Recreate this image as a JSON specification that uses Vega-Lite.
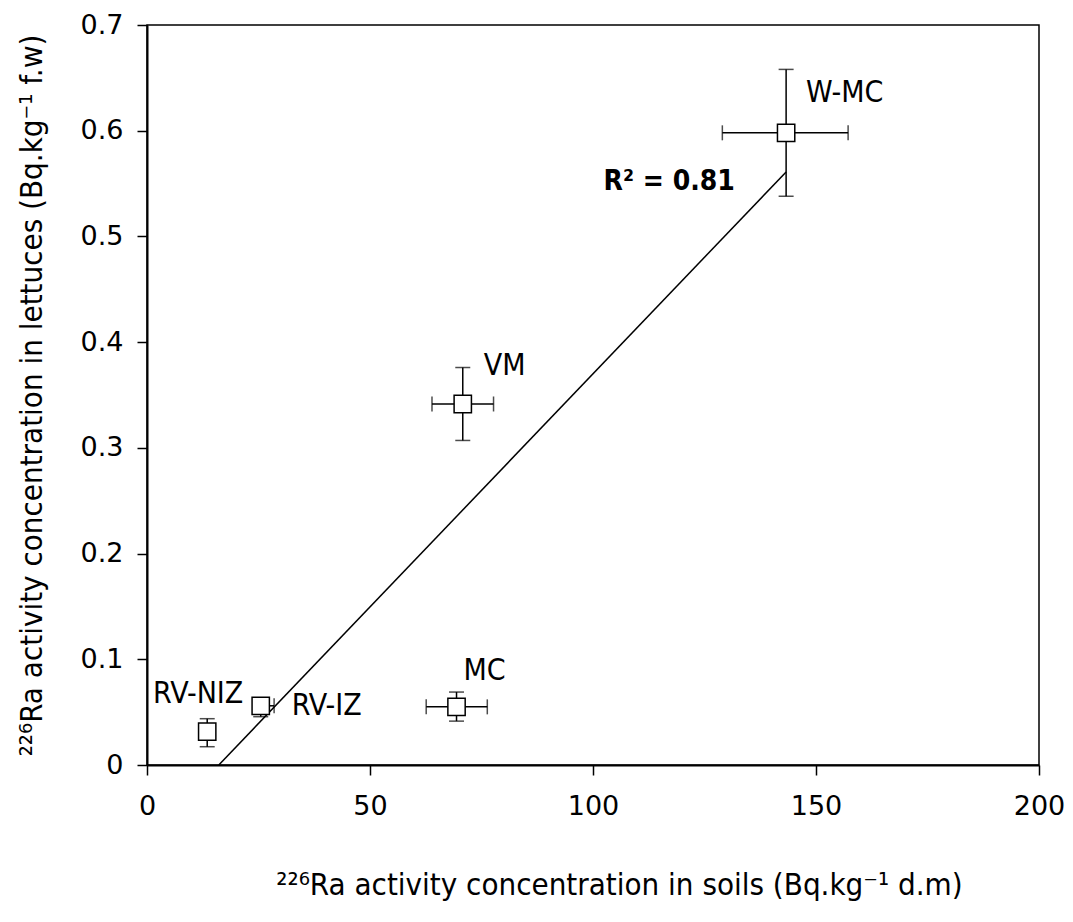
{
  "$schema": "https://vega.github.io/schema/vega-lite/v6.json",
  "width": 892,
  "height": 740,
  "autosize": "none",
  "padding": {"left": 147, "top": 25, "right": 34, "bottom": 157},
  "background": "white",
  "config": {
    "font": "DejaVu Sans Condensed",
    "view": {"stroke": "black", "strokeWidth": 1.5},
    "axis": {
      "grid": false,
      "domainColor": "black",
      "domainWidth": 2,
      "tickColor": "black",
      "tickWidth": 1.5,
      "tickSize": 10,
      "labelColor": "black",
      "labelFontSize": 27,
      "labelFont": "DejaVu Sans",
      "labelFlush": false,
      "labelOverlap": false,
      "titleFont": "DejaVu Sans Condensed",
      "titleFontSize": 31,
      "titleFontWeight": "normal",
      "titleColor": "black"
    }
  },
  "datasets": {
    "points": [
      {"site": "W-MC", "soil": 143.3, "soil_lo": 129.0, "soil_hi": 157.2, "lettuce": 0.598, "lettuce_lo": 0.538, "lettuce_hi": 0.658},
      {"site": "VM", "soil": 70.8, "soil_lo": 63.9, "soil_hi": 77.7, "lettuce": 0.3415, "lettuce_lo": 0.307, "lettuce_hi": 0.376},
      {"site": "MC", "soil": 69.4, "soil_lo": 62.6, "soil_hi": 76.3, "lettuce": 0.055, "lettuce_lo": 0.0415, "lettuce_hi": 0.069},
      {"site": "RV-IZ", "soil": 25.5, "soil_lo": 25.5, "soil_hi": 28.5, "lettuce": 0.056, "lettuce_lo": 0.0457, "lettuce_hi": 0.062},
      {"site": "RV-NIZ", "soil": 13.5, "soil_lo": 13.5, "soil_hi": 13.5, "lettuce": 0.0315, "lettuce_lo": 0.0173, "lettuce_hi": 0.0438}
    ],
    "fit": [
      {"soil": 16.1, "lettuce": 0.0},
      {"soil": 143.3, "lettuce": 0.561}
    ],
    "note": [
      {"label": "R² = 0.81", "soil": 131.8, "lettuce": 0.5516}
    ]
  },
  "layer": [
    {
      "data": {"name": "fit"},
      "mark": {"type": "line", "color": "black", "strokeWidth": 1.5},
      "encoding": {
        "x": {"field": "soil", "type": "quantitative", "scale": {"domain": [0, 200], "nice": false, "zero": false},
          "axis": {"values": [0, 50, 100, 150, 200], "labelPadding": 18,
            "title": "²²⁶Ra activity concentration in soils (Bq.kg⁻¹ d.m)",
            "titleX": 472, "titleY": 120, "titleBaseline": "middle", "titleAnchor": "middle", "titleAlign": "center"}},
        "y": {"field": "lettuce", "type": "quantitative", "scale": {"domain": [0, 0.7], "nice": false, "zero": false},
          "axis": {"values": [0, 0.1, 0.2, 0.3, 0.4, 0.5, 0.6, 0.7], "labelPadding": 14,
            "labelExpr": "datum.value == 0 ? '0' : format(datum.value, '.1f')",
            "title": "²²⁶Ra activity concentration in lettuces (Bq.kg⁻¹ f.w)",
            "titleX": -115, "titleY": 370, "titleAngle": 270, "titleBaseline": "middle", "titleAlign": "center", "titleAnchor": "middle"}}
      }
    },
    {
      "data": {"name": "points"},
      "mark": {"type": "rule", "color": "black", "strokeWidth": 1.5},
      "encoding": {
        "x": {"field": "soil_lo", "type": "quantitative"},
        "x2": {"field": "soil_hi"},
        "y": {"field": "lettuce", "type": "quantitative"}
      }
    },
    {
      "data": {"name": "points"},
      "mark": {"type": "rule", "color": "black", "strokeWidth": 1.5},
      "encoding": {
        "x": {"field": "soil", "type": "quantitative"},
        "y": {"field": "lettuce_lo", "type": "quantitative"},
        "y2": {"field": "lettuce_hi"}
      }
    },
    {
      "data": {"name": "points"},
      "mark": {"type": "tick", "orient": "vertical", "color": "black", "size": 15, "thickness": 1.5},
      "encoding": {
        "x": {"field": "soil_lo", "type": "quantitative"},
        "y": {"field": "lettuce", "type": "quantitative"}
      }
    },
    {
      "data": {"name": "points"},
      "mark": {"type": "tick", "orient": "vertical", "color": "black", "size": 15, "thickness": 1.5},
      "encoding": {
        "x": {"field": "soil_hi", "type": "quantitative"},
        "y": {"field": "lettuce", "type": "quantitative"}
      }
    },
    {
      "data": {"name": "points"},
      "mark": {"type": "tick", "orient": "horizontal", "color": "black", "size": 15, "thickness": 1.5},
      "encoding": {
        "x": {"field": "soil", "type": "quantitative"},
        "y": {"field": "lettuce_lo", "type": "quantitative"}
      }
    },
    {
      "data": {"name": "points"},
      "mark": {"type": "tick", "orient": "horizontal", "color": "black", "size": 15, "thickness": 1.5},
      "encoding": {
        "x": {"field": "soil", "type": "quantitative"},
        "y": {"field": "lettuce_hi", "type": "quantitative"}
      }
    },
    {
      "data": {"name": "points"},
      "mark": {"type": "point", "shape": "square", "filled": true, "fill": "white", "stroke": "black", "strokeWidth": 1.5, "size": 300, "opacity": 1},
      "encoding": {
        "x": {"field": "soil", "type": "quantitative"},
        "y": {"field": "lettuce", "type": "quantitative"}
      }
    },
    {
      "data": {"name": "points"},
      "transform": [{"filter": "datum.site == 'W-MC'"}],
      "mark": {"type": "text", "align": "left", "baseline": "middle", "dx": 20, "dy": -40, "fontSize": 30, "color": "black"},
      "encoding": {
        "x": {"field": "soil", "type": "quantitative"},
        "y": {"field": "lettuce", "type": "quantitative"},
        "text": {"field": "site"}
      }
    },
    {
      "data": {"name": "points"},
      "transform": [{"filter": "datum.site == 'VM'"}],
      "mark": {"type": "text", "align": "left", "baseline": "middle", "dx": 21, "dy": -38, "fontSize": 30, "color": "black"},
      "encoding": {
        "x": {"field": "soil", "type": "quantitative"},
        "y": {"field": "lettuce", "type": "quantitative"},
        "text": {"field": "site"}
      }
    },
    {
      "data": {"name": "points"},
      "transform": [{"filter": "datum.site == 'MC'"}],
      "mark": {"type": "text", "align": "left", "baseline": "middle", "dx": 7, "dy": -36, "fontSize": 30, "color": "black"},
      "encoding": {
        "x": {"field": "soil", "type": "quantitative"},
        "y": {"field": "lettuce", "type": "quantitative"},
        "text": {"field": "site"}
      }
    },
    {
      "data": {"name": "points"},
      "transform": [{"filter": "datum.site == 'RV-IZ'"}],
      "mark": {"type": "text", "align": "left", "baseline": "middle", "dx": 31, "dy": 0, "fontSize": 30, "color": "black"},
      "encoding": {
        "x": {"field": "soil", "type": "quantitative"},
        "y": {"field": "lettuce", "type": "quantitative"},
        "text": {"field": "site"}
      }
    },
    {
      "data": {"name": "points"},
      "transform": [{"filter": "datum.site == 'RV-NIZ'"}],
      "mark": {"type": "text", "align": "center", "baseline": "middle", "dx": -9, "dy": -38, "fontSize": 30, "color": "black"},
      "encoding": {
        "x": {"field": "soil", "type": "quantitative"},
        "y": {"field": "lettuce", "type": "quantitative"},
        "text": {"field": "site"}
      }
    },
    {
      "data": {"name": "note"},
      "mark": {"type": "text", "align": "right", "baseline": "middle", "fontSize": 28, "fontWeight": "bold", "color": "black"},
      "encoding": {
        "x": {"field": "soil", "type": "quantitative"},
        "y": {"field": "lettuce", "type": "quantitative"},
        "text": {"field": "label"}
      }
    }
  ]
}
